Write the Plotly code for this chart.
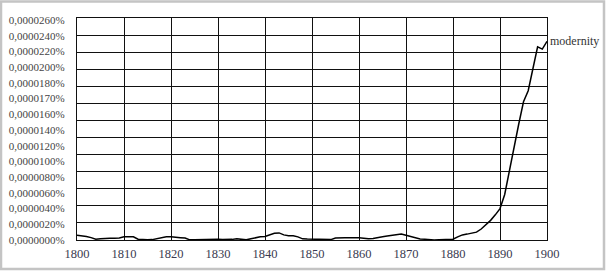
import plotly.graph_objects as go

# ---- data ----
years = list(range(1800, 1901))
# relative frequency of "modernity" in percent
modernity = [
    0.60e-6, 0.55e-6, 0.45e-6, 0.30e-6, 0.10e-6, 0.15e-6, 0.22e-6, 0.22e-6, 0.22e-6, 0.25e-6,  # 1800-1809
    0.40e-6, 0.42e-6, 0.40e-6, 0.10e-6, 0.02e-6, 0.02e-6, 0.05e-6, 0.20e-6, 0.35e-6, 0.42e-6,  # 1810-1819
    0.42e-6, 0.40e-6, 0.30e-6, 0.25e-6, 0.02e-6, 0.03e-6, 0.05e-6, 0.08e-6, 0.12e-6, 0.13e-6,  # 1820-1829
    0.10e-6, 0.05e-6, 0.05e-6, 0.08e-6, 0.15e-6, 0.13e-6, 0.02e-6, 0.15e-6, 0.30e-6, 0.42e-6,  # 1830-1839
    0.45e-6, 0.65e-6, 0.85e-6, 0.90e-6, 0.65e-6, 0.55e-6, 0.55e-6, 0.40e-6, 0.15e-6, 0.12e-6,  # 1840-1849
    0.12e-6, 0.13e-6, 0.12e-6, 0.12e-6, 0.05e-6, 0.25e-6, 0.30e-6, 0.30e-6, 0.28e-6, 0.30e-6,  # 1850-1859
    0.28e-6, 0.22e-6, 0.15e-6, 0.20e-6, 0.35e-6, 0.42e-6, 0.50e-6, 0.60e-6, 0.70e-6, 0.75e-6,  # 1860-1869
    0.60e-6, 0.42e-6, 0.20e-6, 0.12e-6, 0.10e-6, 0.02e-6, 0.00e-6, 0.02e-6, 0.05e-6, 0.05e-6,  # 1870-1879
    0.10e-6, 0.40e-6, 0.65e-6, 0.75e-6, 0.85e-6, 1.00e-6, 1.40e-6, 1.90e-6, 2.50e-6, 3.20e-6,  # 1880-1889
    4.00e-6, 5.80e-6, 8.90e-6, 12.2e-6, 14.8e-6, 17.6e-6, 19.0e-6, 21.8e-6, 24.6e-6, 24.3e-6,  # 1890-1899
    25.3e-6,                                                                                  # 1900
]
series_name = "modernity"

# y tick labels as printed on the original chart (evenly spaced)
y_tick_labels = [
    "0,0000000%", "0,0000020%", "0,0000040%", "0,0000060%", "0,0000080%",
    "0,0000100%", "0,0000120%", "0,0000140%", "0,0000160%", "0,0000170%",
    "0,0000180%", "0,0000200%", "0,0000220%", "0,0000240%", "0,0000260%",
]
y_tick_step = 2e-6
x_ticks = list(range(1800, 1901, 10))

# ---- layout geometry ----
W, H = 612, 275
L, R, T, B = 77, 65, 18, 35
pw, ph = W - L - R, H - T - B
label_px = 15.71  # pixel spacing of the y labels
y_top = ph / label_px * y_tick_step
n_grid = 13       # horizontal grid intervals

def px_x(x):
    return (x - L) / pw

def px_y(y):
    return (H - B - y) / ph

serif = "'Liberation Serif', 'Times New Roman', 'DejaVu Serif', serif"
grid_col = "#111111"

fig = go.Figure()
fig.add_trace(go.Scatter(
    x=years, y=modernity, mode="lines", name=series_name,
    line=dict(color="#000000", width=1.5), showlegend=False,
))
# helper trace so the grid axis is drawn
fig.add_trace(go.Scatter(
    x=years[:1], y=[0], yaxis="y2", mode="markers",
    marker=dict(opacity=0), showlegend=False, hoverinfo="skip",
))

fig.add_annotation(
    x=years[-1], y=modernity[-1], text=series_name, showarrow=False,
    xanchor="left", yanchor="middle", xshift=1,
    font=dict(family=serif, size=12, color="#333333"),
)

fig.add_shape(
    type="rect", xref="paper", yref="paper",
    x0=px_x(1), x1=px_x(604), y0=px_y(269), y1=px_y(1.5),
    line=dict(color="#c4c4c4", width=2.5), fillcolor="rgba(0,0,0,0)", layer="below",
)

fig.update_layout(
    width=W, height=H,
    margin=dict(l=L, r=R, t=T, b=B, autoexpand=False),
    paper_bgcolor="white", plot_bgcolor="white",
    font=dict(family=serif),
    xaxis=dict(
        range=[1800, 1900], tickvals=x_ticks, ticktext=[str(t) for t in x_ticks],
        showgrid=True, gridcolor=grid_col, gridwidth=1.2,
        showline=True, linecolor=grid_col, linewidth=1.2, mirror=True,
        zeroline=False, ticks="", ticklabelstandoff=2, automargin=False,
        tickfont=dict(family=serif, size=12.5, color="#3a3a50"),
    ),
    yaxis=dict(
        range=[0, y_top],
        tickvals=[i * y_tick_step for i in range(len(y_tick_labels))],
        ticktext=y_tick_labels,
        showgrid=False, zeroline=False, ticks="",
        showline=True, linecolor=grid_col, linewidth=1.2, mirror=True,
        ticklabelstandoff=9, automargin=False,
        tickfont=dict(family=serif, size=11, color="#444444"),
    ),
    yaxis2=dict(
        range=[0, n_grid], dtick=1, overlaying="y", side="right",
        showgrid=True, gridcolor=grid_col, gridwidth=1.2, automargin=False,
        showticklabels=False, zeroline=False, ticks="", showline=False,
    ),
)

fig.write_html(
    "out.html",
    config={"displayModeBar": False},
    post_script="document.body.style.margin='0px';document.body.style.overflow='hidden';",
)
